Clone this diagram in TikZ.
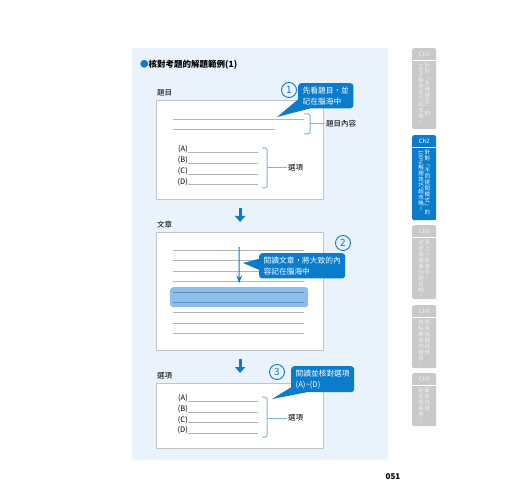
\documentclass[tikz,border=0pt]{standalone}
\usepackage{fontspec}
\setmainfont{Noto Sans CJK TC}
\usepackage{graphicx}
\usetikzlibrary{positioning,arrows.meta}
\definecolor{panelbg}{HTML}{EAF2FB}
\definecolor{callblue}{HTML}{0A7CCB}
\definecolor{brackblue}{HTML}{7DB6E8}
\definecolor{linegray}{HTML}{B4B4B4}
\definecolor{boxgray}{HTML}{C4C4C4}
\definecolor{hilite}{HTML}{8DBDEA}
\definecolor{hiline}{HTML}{5E8EBE}
\definecolor{tabgray}{HTML}{C9C9C9}
\definecolor{tabink}{HTML}{EEEEEE}
\makeatletter
\newcommand\tatecol[1]{\vbox{\baselineskip=6pt\lineskip=0.8pt\lineskiplimit=0pt
  \@tfor\tch:=#1\do{\hbox to 6pt{\hss\tch\hss}}}}
\makeatother
\begin{document}
\begin{tikzpicture}[x=1pt,y=-1pt,>=Stealth,
 every node/.style={font=\fontsize{7.5}{9}\selectfont, inner sep=0pt},
 sheet/.style={draw=boxgray, line width=1.2pt, fill=white, minimum width=167pt, anchor=north west},
 rule/.style={draw=linegray, line width=0.8pt},
 brack/.style={draw=brackblue, line width=1pt, rounded corners=1.5pt},
 callout/.style={fill=callblue, text=white, rounded corners=3pt, align=left,
   inner xsep=4.5pt, inner ysep=3.5pt, font=\fontsize{7.7}{11}\selectfont, anchor=north west},
 numcirc/.style={circle, draw=callblue, line width=0.9pt, text=callblue,
   minimum size=15pt, font=\fontsize{10}{10}\selectfont},
 bigarrow/.style={-{Triangle[length=6pt,width=10pt]}, line width=3pt, draw=callblue},
 chtab/.style={fill=tabgray, rounded corners=2pt, minimum width=24pt, anchor=north west},
 tabhead/.style={text=tabink, font=\fontsize{6}{6}\selectfont},
 tabrule/.style={draw=white, line width=0.8pt},
 tabtext/.style={text=tabink, font=\fontsize{5.5}{6}\selectfont, anchor=north}]
\useasboundingbox (0,0) rectangle (520,500);
\fill[white] (0,0) rectangle (520,500);
\fill[panelbg, rounded corners=2pt] (132,48) rectangle (388,460);
\node[anchor=west, font=\bfseries\fontsize{8.5}{10}\selectfont] (title) at (140,65)
  {\textcolor{callblue}{●}核對考題的解題範例(1)};

\node[sheet, minimum height=99pt] (sheetA) at (156,100) {};
\node[above right=4pt and 1pt of sheetA.north west] (headA) {題目};
\draw[rule] (173,119) -- (304,119);
\draw[rule] (173,129) -- (275,129);
\draw[brack] (304,114) -- (310,114) -- (310,134) -- (304,134);
\coordinate (brA) at (310,124);
\node[right=16pt of brA] (tagA) {題目內容};
\draw[brackblue, line width=1pt, shorten >=1.5pt] (brA) -- (tagA);
\foreach \opt [count=\i from 0] in {A,B,C,D}{
  \node[anchor=base east] (optA\opt) at (188,{152+\i*10.7}) {(\opt)};
  \draw[rule] (188,{152.7+\i*10.7}) -- (258,{152.7+\i*10.7});
}
\draw[brack] (262,148) -- (267,148) -- (267,188) -- (262,188);
\coordinate (brB) at (267,168);
\node[right=21pt of brB] (tagB) {選項};
\draw[brackblue, line width=1pt, shorten >=1.5pt] (brB) -- (tagB);
\node[numcirc] (numA) at (289,90) {1};
\node[callout] (noteA) at (298,83) {先看題目，並\\記在腦海中};
\coordinate (tipA) at (277,117);
\fill[callblue] ([yshift=9pt]noteA.south west) -- (tipA) -- ([xshift=12pt]noteA.south west) -- cycle;

\node[sheet, minimum height=118pt] (sheetB) at (156,232) {};
\node[above right=4pt and 1pt of sheetB.north west] (headB) {文章};
\draw[bigarrow] ([yshift=-8pt]sheetA.south) -- ([yshift=10pt]sheetB.north);
\foreach \y in {250,260,271,281,312,323,333}
  \draw[rule] (173,\y) -- (304,\y);
\node[fill=hilite, rounded corners=3pt, minimum width=138pt, minimum height=20pt,
  anchor=north west] (mark) at (170,287) {};
\foreach \y in {292,302}
  \draw[hiline, line width=1pt] (173,\y) -- (304,\y);
\coordinate (readS) at (239,247);
\draw[->, callblue, line width=1pt] (readS) -- ([yshift=4pt]mark.north);
\node[numcirc] (numB) at (343,243) {2};
\node[callout] (noteB) at (259,253) {閱讀文章，將大致的內\\容記在腦海中};
\coordinate (tipB) at (243,263);
\fill[callblue] ([yshift=7pt]noteB.west) -- (tipB) -- ([yshift=-4pt]noteB.west) -- cycle;

\node[sheet, minimum height=65pt] (sheetC) at (156,383) {};
\node[above right=4pt and 1pt of sheetC.north west] (headC) {選項};
\draw[bigarrow] ([yshift=-8pt]sheetB.south) -- ([yshift=10pt]sheetC.north);
\foreach \opt [count=\i from 0] in {A,B,C,D}{
  \node[anchor=base east] (optC\opt) at (188,{400.5+\i*10.8}) {(\opt)};
  \draw[rule] (188,{401.2+\i*10.8}) -- (258,{401.2+\i*10.8});
}
\draw[brack] (262,397) -- (267,397) -- (267,437) -- (262,437);
\coordinate (brC) at (267,418);
\node[right=21pt of brC] (tagC) {選項};
\draw[brackblue, line width=1pt, shorten >=1.5pt] (brC) -- (tagC);
\node[numcirc] (numC) at (277,372) {3};
\node[callout] (noteC) at (291,366) {閱讀並核對選項\\(A)\textasciitilde(D)};
\coordinate (tipC) at (272,399);
\fill[callblue] ([yshift=5pt]noteC.south west) -- (tipC) -- ([xshift=15pt]noteC.south west) -- cycle;

\node[chtab, minimum height=81pt] (tabA) at (412,48) {};
\node[tabhead] at ([yshift=-6pt]tabA.north) {Ch1};
\draw[tabrule] ([yshift=-12pt]tabA.north west) -- ([yshift=-12pt]tabA.north east);
\node[tabtext] at ([xshift=3.2pt,yshift=-15pt]tabA.north) {\tatecol{針對﹁各種題型﹂的}};
\node[tabtext] at ([xshift=-3.2pt,yshift=-15pt]tabA.north) {\tatecol{{\rotatebox{-90}{100\%}}解題技巧超攻略！}};

\node[chtab, fill=callblue, minimum height=85pt] (tabB) at (412,135) {};
\node[tabhead, text=white] at ([yshift=-6pt]tabB.north) {Ch2};
\draw[tabrule] ([yshift=-12pt]tabB.north west) -- ([yshift=-12pt]tabB.north east);
\node[tabtext, text=white] at ([xshift=3.2pt,yshift=-15pt]tabB.north) {\tatecol{針對﹁不同提問模式﹂的}};
\node[tabtext, text=white] at ([xshift=-3.2pt,yshift=-15pt]tabB.north) {\tatecol{{\rotatebox{-90}{100\%}}解題技巧超攻略！}};

\node[chtab, minimum height=74pt] (tabC) at (412,225) {};
\node[tabhead] at ([yshift=-6pt]tabC.north) {Ch3};
\draw[tabrule] ([yshift=-12pt]tabC.north west) -- ([yshift=-12pt]tabC.north east);
\node[tabtext] at ([xshift=3.2pt,yshift=-15pt]tabC.north) {\tatecol{馬上小試身手！}};
\node[tabtext] at ([xshift=-3.2pt,yshift=-15pt]tabC.north) {\tatecol{試著做簡單的題目吧！}};

\node[chtab, minimum height=63pt] (tabD) at (412,305) {};
\node[tabhead] at ([yshift=-6pt]tabD.north) {Ch4};
\draw[tabrule] ([yshift=-12pt]tabD.north west) -- ([yshift=-12pt]tabD.north east);
\node[tabtext] at ([xshift=3.2pt,yshift=-15pt]tabD.north) {\tatecol{再來挑戰稍微}};
\node[tabtext] at ([xshift=-3.2pt,yshift=-15pt]tabD.north) {\tatecol{有點難度的題目！}};

\node[chtab, minimum height=53pt] (tabE) at (412,373) {};
\node[tabhead] at ([yshift=-6pt]tabE.north) {Ch5};
\draw[tabrule] ([yshift=-12pt]tabE.north west) -- ([yshift=-12pt]tabE.north east);
\node[tabtext] at ([xshift=3.2pt,yshift=-15pt]tabE.north) {\tatecol{最後挑戰}};
\node[tabtext] at ([xshift=-3.2pt,yshift=-15pt]tabE.north) {\tatecol{迷你模擬考！}};

\node[font=\bfseries\fontsize{8}{8}\selectfont] (pnum) at (393,477) {051};
\end{tikzpicture}
\end{document}
